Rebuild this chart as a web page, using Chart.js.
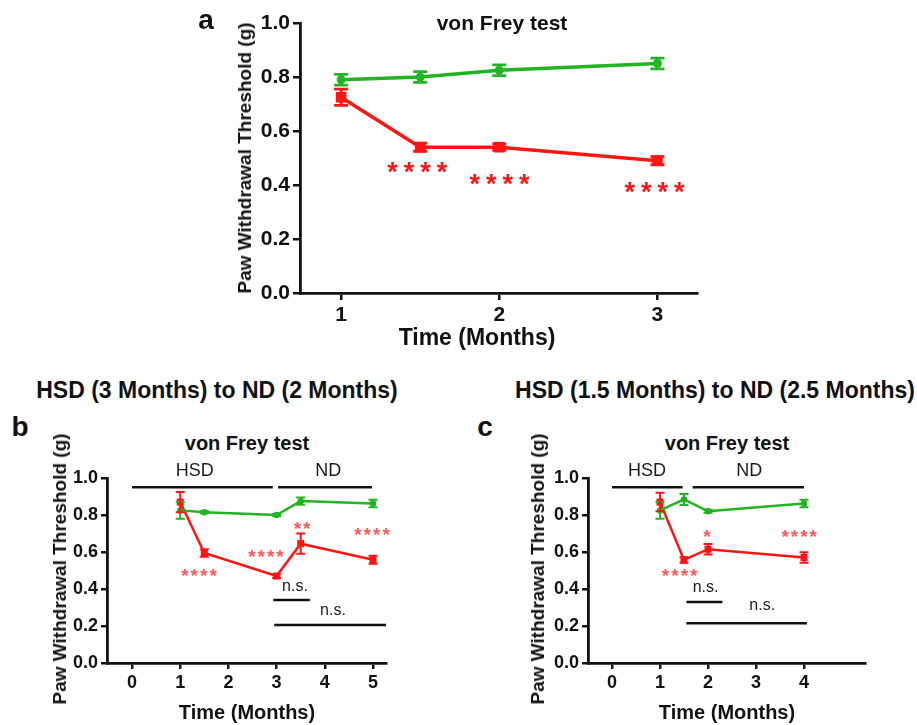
<!DOCTYPE html>
<html lang="en">
<head>
<meta charset="UTF-8">
<title>von Frey test</title>
<script src="https://cdn.jsdelivr.net/npm/chart.js"></script>
<style>
  body { margin: 0; background: #fff; font-family: "Liberation Sans", Arial, sans-serif; }
  #page { position: relative; width: 917px; height: 725px; overflow: hidden; }
  canvas { position: absolute; }
  .lbl { position: absolute; font-weight: bold; color: #111; transform: translate(-50%, -50%); white-space: nowrap; }
  .rot { transform: translate(-50%, -50%) rotate(-90deg); }
</style>
</head>
<body>
<div id="page">
  <canvas id="ca" width="510" height="350" style="left:200px;top:0"></canvas>
  <canvas id="cb" width="400" height="265" style="left:0;top:460px"></canvas>
  <canvas id="cc" width="400" height="265" style="left:470px;top:460px"></canvas>

  <div class="lbl" style="left:206px;top:20px;font-size:28px">a</div>
  <div class="lbl" style="left:502px;top:23px;font-size:21px">von Frey test</div>
  <div class="lbl" style="left:477px;top:337px;font-size:23px">Time (Months)</div>
  <div class="lbl rot" style="left:245px;top:158px;font-size:19px">Paw Withdrawal Threshold (g)</div>

  <div class="lbl" style="left:217px;top:390px;font-size:23px">HSD (3 Months) to ND (2 Months)</div>
  <div class="lbl" style="left:20px;top:427px;font-size:28px">b</div>
  <div class="lbl" style="left:247px;top:443px;font-size:20px">von Frey test</div>
  <div class="lbl rot" style="left:60px;top:569px;font-size:19px">Paw Withdrawal Threshold (g)</div>
  <div class="lbl" style="left:247px;top:712px;font-size:20px">Time (Months)</div>

  <div class="lbl" style="left:715px;top:390px;font-size:23px">HSD (1.5 Months) to ND (2.5 Months)</div>
  <div class="lbl" style="left:485px;top:427px;font-size:28px">c</div>
  <div class="lbl" style="left:727px;top:443px;font-size:20px">von Frey test</div>
  <div class="lbl rot" style="left:538px;top:569px;font-size:19px">Paw Withdrawal Threshold (g)</div>
  <div class="lbl" style="left:727px;top:712px;font-size:20px">Time (Months)</div>
</div>

<script>
// ---- panel a ----
const timeA = [1, 1.5, 2, 3];
const ndA = [0.79, 0.80, 0.825, 0.85];
const ndErrA = [0.02, 0.02, 0.02, 0.02];
const hsdA = [0.725, 0.54, 0.54, 0.49];
const hsdErrA = [0.03, 0.015, 0.012, 0.015];
const starXA = [1.5, 2.02, 3];
const starYA = [0.463, 0.42, 0.39];
const starTxtA = ['****', '****', '****'];
const xTicksA = [1, 2, 3];

// ---- panel b ----
const timeB = [1, 1.5, 3, 3.5, 5];
const ndB = [0.825, 0.815, 0.80, 0.875, 0.862];
const ndErrB = [0.045, 0.006, 0.006, 0.02, 0.02];
const hsdB = [0.87, 0.595, 0.47, 0.645, 0.558];
const hsdErrB = [0.055, 0.02, 0.01, 0.055, 0.022];
const starXB = [1.41, 2.8, 3.55, 5.0];
const starYB = [0.49, 0.59, 0.745, 0.71];
const starTxtB = ['****', '****', '**', '****'];
const barsB = [[0, 2.92, 0.95], [3.03, 4.98, 0.95], [2.93, 3.69, 0.34], [2.95, 5.27, 0.205]];
const tagsB = [['HSD', 1.3, 1.035], ['ND', 4.07, 1.035], ['n.s.', 3.38, 0.415], ['n.s.', 4.17, 0.285]];
const xTicksB = [0, 1, 2, 3, 4, 5];

// ---- panel c ----
const timeC = [1, 1.5, 2, 4];
const ndC = [0.825, 0.884, 0.82, 0.862];
const ndErrC = [0.045, 0.03, 0.008, 0.02];
const hsdC = [0.87, 0.557, 0.615, 0.57];
const hsdErrC = [0.05, 0.015, 0.028, 0.028];
const starXC = [1.43, 2.0, 3.92];
const starYC = [0.49, 0.70, 0.70];
const starTxtC = ['****', '*', '****'];
const barsC = [[0, 1.47, 0.95], [1.68, 4.0, 0.95], [1.55, 2.3, 0.33], [1.55, 4.06, 0.215]];
const tagsC = [['HSD', 0.73, 1.035], ['ND', 2.86, 1.035], ['n.s.', 1.95, 0.405], ['n.s.', 3.13, 0.31]];
const xTicksC = [0, 1, 2, 3, 4];

const yTicks = [0, 0.2, 0.4, 0.6, 0.8, 1.0];
const GREEN = '#22b422';
const RED = '#ff1414';
const FONT = '"Liberation Sans", Arial, sans-serif';

const pts = (xs, ys) => xs.map((x, i) => ({ x, y: ys[i] }));

const errPlugin = {
  id: 'errbars',
  afterDatasetsDraw(chart) {
    const { ctx, scales: { x, y } } = chart;
    chart.data.datasets.forEach(ds => {
      if (!ds.err) return;
      ctx.save();
      ctx.strokeStyle = ds.borderColor;
      ctx.lineWidth = ds.errWidth;
      ds.data.forEach((p, j) => {
        const px = x.getPixelForValue(p.x);
        const top = y.getPixelForValue(p.y + ds.err[j]);
        const bot = y.getPixelForValue(p.y - ds.err[j]);
        const c = ds.cap;
        ctx.beginPath();
        ctx.moveTo(px, top); ctx.lineTo(px, bot);
        ctx.moveTo(px - c, top); ctx.lineTo(px + c, top);
        ctx.moveTo(px - c, bot); ctx.lineTo(px + c, bot);
        ctx.stroke();
      });
      ctx.restore();
    });
  }
};

const notesPlugin = {
  id: 'notes',
  afterDraw(chart, args, opts) {
    const { ctx, scales: { x, y } } = chart;
    (opts.items || []).forEach(n => {
      ctx.save();
      ctx.font = n.font;
      ctx.fillStyle = n.color;
      ctx.textAlign = 'center';
      ctx.textBaseline = 'middle';
      if (n.spacing) ctx.letterSpacing = n.spacing;
      ctx.fillText(n.text, x.getPixelForValue(n.x), y.getPixelForValue(n.y) + (n.dy || 0));
      ctx.restore();
    });
  }
};

function series(xs, ys, errs, color, style, radius, lw, cap) {
  return {
    data: pts(xs, ys), err: errs, showLine: true,
    borderColor: color, backgroundColor: color, borderWidth: lw,
    pointStyle: style, pointRadius: radius, pointBorderWidth: 0,
    errWidth: lw * 0.8, cap: cap
  };
}

function hbar(b) {
  return {
    data: [{ x: b[0], y: b[2] }, { x: b[1], y: b[2] }], showLine: true,
    borderColor: '#111', borderWidth: 2.5, pointRadius: 0
  };
}

function panel(id, p) {
  return new Chart(document.getElementById(id), {
    type: 'scatter',
    data: { datasets: p.datasets },
    options: {
      responsive: false, animation: false,
      layout: { padding: p.pad },
      plugins: { legend: { display: false }, tooltip: { enabled: false }, notes: { items: p.notes } },
      scales: {
        x: {
          type: 'linear', min: p.xmin, max: p.xmax,
          afterBuildTicks: s => { s.ticks = p.xticks.map(v => ({ value: v })); },
          afterFit: s => { s.height = p.xh; },
          grid: { drawOnChartArea: false, drawTicks: true, tickLength: p.tl, color: '#111', lineWidth: 2.5 },
          border: { color: '#111', width: 2.8 },
          ticks: { color: '#111', padding: 3, font: { family: FONT, size: p.tf, weight: 'bold' }, maxRotation: 0 }
        },
        y: {
          min: 0, max: 1,
          afterBuildTicks: s => { s.ticks = yTicks.map(v => ({ value: v })); },
          afterFit: s => { s.width = p.yw; },
          grid: { drawOnChartArea: false, drawTicks: true, tickLength: p.tl, color: '#111', lineWidth: 2.5 },
          border: { color: '#111', width: 2.8 },
          ticks: { color: '#111', padding: 3, font: { family: FONT, size: p.tf, weight: 'bold' }, callback: v => v.toFixed(1) }
        }
      }
    },
    plugins: [errPlugin, notesPlugin]
  });
}

function starNotes(xs, ys, txt, size, spacing, color) {
  return xs.map((x, i) => ({ x, y: ys[i], text: txt[i], font: `bold ${size}px ${FONT}`, color, spacing, dy: size * 0.22 }));
}
function tagNotes(tags) {
  return tags.map(t => ({ x: t[1], y: t[2], text: t[0], font: `${t[0] === 'n.s.' ? 16 : 18}px ${FONT}`, color: '#1a1a1a' }));
}

panel('ca', {
  datasets: [
    series(timeA, ndA, ndErrA, GREEN, 'circle', 4.5, 3.5, 7),
    series(timeA, hsdA, hsdErrA, RED, 'rect', 7.5, 3.5, 7)
  ],
  notes: starNotes(starXA, starYA, starTxtA, 27, '6px', RED),
  pad: { top: 23, right: 13, bottom: 0, left: 0 },
  xmin: 0.74, xmax: 3.25, xticks: xTicksA, xh: 57, yw: 100, tl: 7, tf: 21
});

panel('cb', {
  datasets: [
    ...barsB.map(hbar),
    series(timeB, ndB, ndErrB, GREEN, 'circle', 3.2, 2.5, 4.5),
    series(timeB, hsdB, hsdErrB, RED, 'rect', 5, 2.5, 4.5)
  ],
  notes: [...starNotes(starXB, starYB, starTxtB, 19, '2px', 'rgba(255,70,70,0.9)'), ...tagNotes(tagsB)],
  pad: { top: 18, right: 14, bottom: 0, left: 0 },
  xmin: -0.52, xmax: 5.27, xticks: xTicksB, xh: 62, yw: 107, tl: 6, tf: 18
});

panel('cc', {
  datasets: [
    ...barsC.map(hbar),
    series(timeC, ndC, ndErrC, GREEN, 'circle', 3.2, 2.5, 4.5),
    series(timeC, hsdC, hsdErrC, RED, 'rect', 5, 2.5, 4.5)
  ],
  notes: [...starNotes(starXC, starYC, starTxtC, 19, '2px', 'rgba(255,70,70,0.9)'), ...tagNotes(tagsC)],
  pad: { top: 18, right: 4, bottom: 0, left: 0 },
  xmin: -0.5, xmax: 5.27, xticks: xTicksC, xh: 62, yw: 118, tl: 6, tf: 18
});
</script>
</body>
</html>
